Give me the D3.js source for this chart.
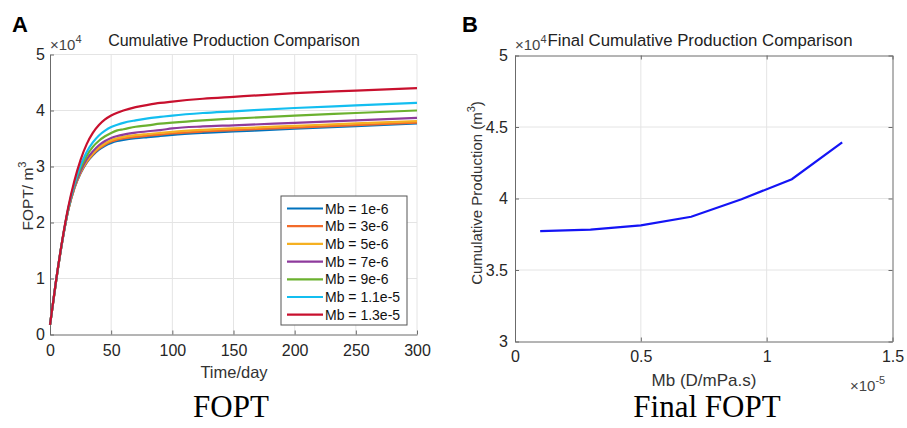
<!DOCTYPE html>
<html>
<head>
<meta charset="utf-8">
<script src="https://cdn.jsdelivr.net/npm/d3@7"></script>
<style>
  body { margin: 0; background: #fff; }
  svg { display: block; font-family: "Liberation Sans", Arial, sans-serif; }
  .grid line { stroke: #e4e4e4; }
</style>
</head>
<body>
<svg id="chart" width="907" height="428"></svg>
<script>
// time axis (days)
const days = [0, 5, 10, 15, 20, 25, 30, 35, 40, 45, 50, 55, 60, 70, 80, 90, 100, 125, 150, 200, 250, 300];
// cumulative production (x1e4 m3) per Mb value
const mb1e6  = [0.17, 0.96, 1.66, 2.23, 2.62, 2.88, 3.07, 3.20, 3.30, 3.37, 3.42, 3.455, 3.475, 3.505, 3.525, 3.545, 3.565, 3.60, 3.625, 3.675, 3.72, 3.77];
const mb3e6  = [0.17, 0.96, 1.66, 2.23, 2.62, 2.89, 3.08, 3.215, 3.32, 3.39, 3.445, 3.48, 3.50, 3.53, 3.55, 3.57, 3.59, 3.625, 3.65, 3.695, 3.74, 3.785];
const mb5e6  = [0.17, 0.96, 1.66, 2.23, 2.63, 2.90, 3.10, 3.235, 3.34, 3.415, 3.47, 3.505, 3.53, 3.56, 3.58, 3.60, 3.62, 3.655, 3.68, 3.725, 3.77, 3.81];
const mb7e6  = [0.17, 0.96, 1.66, 2.24, 2.64, 2.92, 3.13, 3.27, 3.38, 3.455, 3.51, 3.545, 3.57, 3.605, 3.63, 3.65, 3.68, 3.715, 3.735, 3.78, 3.825, 3.87];
const mb9e6  = [0.17, 0.96, 1.67, 2.25, 2.67, 2.97, 3.19, 3.35, 3.46, 3.54, 3.60, 3.645, 3.665, 3.71, 3.735, 3.765, 3.785, 3.825, 3.855, 3.91, 3.955, 4.00];
const mb11e6 = [0.17, 0.97, 1.67, 2.26, 2.695, 3.02, 3.26, 3.43, 3.555, 3.64, 3.705, 3.745, 3.78, 3.825, 3.86, 3.885, 3.91, 3.955, 3.985, 4.045, 4.09, 4.135];
const mb13e6 = [0.17, 0.97, 1.68, 2.28, 2.75, 3.12, 3.40, 3.60, 3.74, 3.84, 3.91, 3.96, 4.00, 4.06, 4.10, 4.135, 4.16, 4.21, 4.245, 4.31, 4.355, 4.40];
const seriesNames = ['Mb = 1e-6', 'Mb = 3e-6', 'Mb = 5e-6', 'Mb = 7e-6', 'Mb = 9e-6', 'Mb = 1.1e-5', 'Mb = 1.3e-5'];
const seriesVals = [mb1e6, mb3e6, mb5e6, mb7e6, mb9e6, mb11e6, mb13e6];
const colors = ['#0072bd', '#f26b2a', '#f5b021', '#8e3a9c', '#6bb12f', '#13bef0', '#c8102e'];

// final FOPT vs Mb (x1e-5)
const mbVals = [0.1, 0.3, 0.5, 0.7, 0.9, 1.1, 1.3];
const finalFopt = [3.772, 3.783, 3.812, 3.872, 3.995, 4.135, 4.393];

const svg = d3.select('#chart');
const axisFont = a => a.attr('font-family', '"Liberation Sans", Arial, sans-serif').attr('font-size', 16)
    .call(g => g.selectAll('text').attr('fill', '#262626'))
    .call(g => g.selectAll('path,line').attr('stroke', '#6b6b6b'));

// ---------- panel A ----------
const xA = d3.scaleLinear().domain([0, 300]).range([50, 417]);
const yA = d3.scaleLinear().domain([0, 5]).range([334.5, 54.5]);
const gA = svg.append('g');

gA.append('g').attr('class', 'grid')
    .selectAll('line').data(xA.ticks(6).slice(1)).join('line')
    .attr('x1', d => xA(d)).attr('x2', d => xA(d))
    .attr('y1', yA(0)).attr('y2', yA(5));
gA.append('g').attr('class', 'grid')
    .selectAll('line').data(yA.ticks(5).slice(1)).join('line')
    .attr('x1', xA(0)).attr('x2', xA(300))
    .attr('y1', d => yA(d)).attr('y2', d => yA(d));

gA.append('g').attr('transform', `translate(0,${yA(0)})`)
    .call(d3.axisBottom(xA).ticks(6).tickSizeInner(-4).tickSizeOuter(0).tickPadding(10))
    .call(axisFont);
gA.append('g').attr('transform', `translate(${xA(0)},0)`)
    .call(d3.axisLeft(yA).ticks(5).tickSizeInner(-4).tickSizeOuter(0).tickPadding(5))
    .call(axisFont);

const lineA = d3.line().x((d, i) => xA(days[i])).y(d => yA(d)).curve(d3.curveMonotoneX);
gA.append('g').selectAll('path').data(seriesVals).join('path')
    .attr('fill', 'none').attr('stroke', (d, i) => colors[i]).attr('stroke-width', 2.2)
    .attr('d', lineA);

// legend
const leg = gA.append('g');
leg.append('rect').attr('x', 281).attr('y', 196).attr('width', 126).attr('height', 129)
    .attr('fill', '#fff').attr('stroke', '#555').attr('stroke-width', 1);
seriesNames.forEach((n, i) => {
    const y = 208.5 + i * 17.7;
    leg.append('line').attr('x1', 287).attr('x2', 323).attr('y1', y).attr('y2', y)
        .attr('stroke', colors[i]).attr('stroke-width', 2.2);
    leg.append('text').attr('x', 325).attr('y', y).attr('dy', '0.36em')
        .attr('font-size', 14).attr('fill', '#111').text(n);
});

gA.append('text').attr('x', 12).attr('y', 32).attr('font-size', 22).attr('font-weight', 'bold').text('A');
gA.append('text').attr('x', 234).attr('y', 46).attr('text-anchor', 'middle')
    .attr('font-size', 16).attr('fill', '#222').text('Cumulative Production Comparison');
const expA = gA.append('text').attr('x', 50).attr('y', 50).attr('font-size', 15).attr('fill', '#444');
expA.append('tspan').text('\u00d710');
expA.append('tspan').attr('dy', -7).attr('font-size', 11).text('4');
gA.append('text').attr('x', 234).attr('y', 378).attr('text-anchor', 'middle')
    .attr('font-size', 16.5).attr('fill', '#333').text('Time/day');
const ylA = gA.append('text').attr('transform', 'translate(33,196) rotate(-90)')
    .attr('text-anchor', 'middle').attr('font-size', 15.5).attr('fill', '#333');
ylA.append('tspan').text('FOPT/ m');
ylA.append('tspan').attr('dy', -7).attr('font-size', 11).text('3');
gA.append('text').attr('x', 231).attr('y', 417).attr('text-anchor', 'middle')
    .attr('font-family', '"Liberation Serif", "Times New Roman", serif').attr('font-size', 31).text('FOPT');

// ---------- panel B ----------
const xB = d3.scaleLinear().domain([0, 1.5]).range([515, 892.5]);
const yB = d3.scaleLinear().domain([3, 5]).range([341.5, 55.5]);
const gB = svg.append('g');

gB.append('g').attr('class', 'grid')
    .selectAll('line').data([0.5, 1]).join('line')
    .attr('x1', d => xB(d)).attr('x2', d => xB(d))
    .attr('y1', yB(3)).attr('y2', yB(5));
gB.append('g').attr('class', 'grid')
    .selectAll('line').data([3.5, 4, 4.5]).join('line')
    .attr('x1', xB(0)).attr('x2', xB(1.5))
    .attr('y1', d => yB(d)).attr('y2', d => yB(d));

const xTicksB = [0, 0.5, 1, 1.5];
const yTicksB = [3, 3.5, 4, 4.5, 5];
gB.append('g').attr('transform', `translate(0,${yB(3)})`)
    .call(d3.axisBottom(xB).tickValues(xTicksB).tickFormat(d3.format('')).tickSizeInner(-4).tickSizeOuter(0).tickPadding(9))
    .call(axisFont);
gB.append('g').attr('transform', `translate(0,${yB(5)})`)
    .call(d3.axisTop(xB).tickValues(xTicksB).tickFormat('').tickSizeInner(-4).tickSizeOuter(0))
    .call(axisFont);
gB.append('g').attr('transform', `translate(${xB(0)},0)`)
    .call(d3.axisLeft(yB).tickValues(yTicksB).tickFormat(d3.format('')).tickSizeInner(-4).tickSizeOuter(0).tickPadding(7))
    .call(axisFont);
gB.append('g').attr('transform', `translate(${xB(1.5)},0)`)
    .call(d3.axisRight(yB).tickValues(yTicksB).tickFormat('').tickSizeInner(-4).tickSizeOuter(0))
    .call(axisFont);

gB.append('path').datum(finalFopt)
    .attr('fill', 'none').attr('stroke', '#1414f5').attr('stroke-width', 2.2)
    .attr('d', d3.line().x((d, i) => xB(mbVals[i])).y(d => yB(d)));

gB.append('text').attr('x', 462).attr('y', 32).attr('font-size', 22).attr('font-weight', 'bold').text('B');
const expB = gB.append('text').attr('x', 515).attr('y', 50).attr('font-size', 15).attr('fill', '#444');
expB.append('tspan').text('\u00d710');
expB.append('tspan').attr('dy', -7).attr('font-size', 11).text('4');
gB.append('text').attr('x', 700).attr('y', 46).attr('text-anchor', 'middle')
    .attr('font-size', 16.8).attr('fill', '#222').text('Final Cumulative Production Comparison');
gB.append('text').attr('x', 704).attr('y', 386).attr('text-anchor', 'middle')
    .attr('font-size', 17).attr('fill', '#333').text('Mb (D/mPa.s)');
const expB2 = gB.append('text').attr('x', 850).attr('y', 391).attr('font-size', 15).attr('fill', '#444');
expB2.append('tspan').text('\u00d710');
expB2.append('tspan').attr('dy', -7).attr('font-size', 11).text('-5');
const ylB = gB.append('text').attr('transform', 'translate(482,193) rotate(-90)')
    .attr('text-anchor', 'middle').attr('font-size', 15).attr('fill', '#333');
ylB.append('tspan').text('Cumulative Production (m');
ylB.append('tspan').attr('dy', -7).attr('font-size', 11).text('3');
ylB.append('tspan').attr('dy', 7).text(')');
gB.append('text').attr('x', 707).attr('y', 417).attr('text-anchor', 'middle')
    .attr('font-family', '"Liberation Serif", "Times New Roman", serif').attr('font-size', 31).text('Final FOPT');
</script>
</body>
</html>
